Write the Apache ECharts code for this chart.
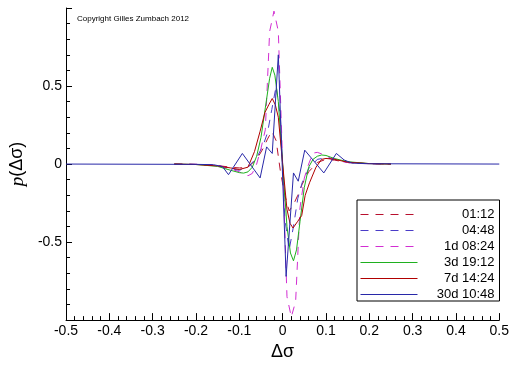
<!DOCTYPE html>
<html>
<head>
<meta charset="utf-8">
<script src="https://cdn.jsdelivr.net/npm/echarts@6/dist/echarts.min.js"></script>
<style>
  html, body { margin: 0; padding: 0; background: #fff; }
  #chart { width: 512px; height: 366px; }
</style>
</head>
<body>
<div id="chart"></div>
<script>
// legend names
const names = ['01:12', '04:48', '1d 08:24', '3d 19:12', '7d 14:24', '30d 10:48'];

// 01:12
const x0112 = [-0.25, -0.2, -0.15, -0.12, -0.1, -0.08, -0.06, -0.045, -0.035, -0.025, -0.015, -0.005, 0.005, 0.015, 0.025, 0.035, 0.045, 0.06, 0.08, 0.1, 0.12, 0.15, 0.2, 0.25];
const p0112 = [0, -0.002, -0.01, -0.02, -0.025, -0.02, 0.03, 0.1, 0.16, 0.21, 0.15, -0.05, -0.2, -0.3, -0.26, -0.2, -0.13, -0.05, 0.01, 0.03, 0.025, 0.01, 0.002, 0];

// 04:48
const x0448 = [-0.25, -0.2, -0.15, -0.12, -0.1, -0.08, -0.06, -0.045, -0.035, -0.025, -0.015, -0.005, 0.005, 0.015, 0.025, 0.035, 0.045, 0.06, 0.08, 0.1, 0.12, 0.15, 0.2, 0.25];
const p0448 = [0, -0.002, -0.01, -0.03, -0.04, -0.02, 0.04, 0.12, 0.2, 0.35, 0.5, 0.3, -0.35, -0.55, -0.4, -0.22, -0.12, -0.03, 0.03, 0.04, 0.03, 0.01, 0.002, 0];

// 1d 08:24
const x1d = [-0.25, -0.2, -0.16, -0.14, -0.12, -0.1, -0.09, -0.08, -0.07, -0.06, -0.05, -0.04, -0.03, -0.02, -0.01, 0, 0.01, 0.02, 0.03, 0.04, 0.05, 0.06, 0.07, 0.08, 0.09, 0.1, 0.12, 0.14, 0.16, 0.2, 0.25];
const p1d = [0, -0.002, -0.005, -0.015, -0.03, -0.05, -0.065, -0.075, -0.06, 0.0, 0.1, 0.22, 0.85, 0.98, 0.85, 0, -0.85, -0.98, -0.88, -0.28, -0.09, 0.0, 0.07, 0.075, 0.065, 0.05, 0.03, 0.015, 0.005, 0.002, 0];

// 3d 19:12
const x3d = [-0.25, -0.2, -0.15, -0.12, -0.1, -0.09, -0.08, -0.07, -0.06, -0.05, -0.04, -0.03, -0.024, -0.018, -0.01, 0, 0.01, 0.018, 0.025, 0.032, 0.04, 0.05, 0.06, 0.07, 0.08, 0.09, 0.1, 0.11, 0.12, 0.15, 0.2, 0.25];
const p3d = [0, -0.003, -0.015, -0.04, -0.055, -0.058, -0.05, -0.02, 0.05, 0.17, 0.36, 0.55, 0.62, 0.57, 0.4, 0, -0.4, -0.57, -0.62, -0.55, -0.37, -0.15, -0.02, 0.03, 0.05, 0.058, 0.055, 0.045, 0.035, 0.015, 0.003, 0];

// 7d 14:24
const x7d = [-0.25, -0.2, -0.15, -0.12, -0.1, -0.08, -0.065, -0.052, -0.041, -0.032, -0.024, -0.017, -0.01, 0, 0.01, 0.017, 0.024, 0.034, 0.044, 0.052, 0.062, 0.077, 0.09, 0.1, 0.12, 0.15, 0.2, 0.25];
const p7d = [0, -0.003, -0.012, -0.025, -0.035, -0.02, 0.08, 0.21, 0.33, 0.38, 0.42, 0.38, 0.3, 0, -0.29, -0.38, -0.41, -0.37, -0.33, -0.2, -0.12, -0.02, 0.03, 0.036, 0.03, 0.012, 0.003, 0];

// 30d 10:48
const x30d = [-0.5, -0.2, -0.16, -0.139, -0.125, -0.093, -0.052, -0.037, -0.024, -0.01, 0.008, 0.025, 0.036, 0.051, 0.095, 0.124, 0.142, 0.16, 0.2, 0.5];
const p30d = [0, -0.002, -0.004, -0.016, -0.068, 0.068, -0.089, 0.11, 0.068, 0.7, -0.72, -0.057, -0.11, 0.089, -0.057, 0.068, 0.026, 0.006, 0.002, 0];

function zip(xs, ys) {
  return xs.map((x, i) => [x, ys[i]]);
}

let chart = echarts.init(document.getElementById('chart'));

let dash = [8, 7];
let seriesDefs = [
  { xs: x0112, ys: p0112, color: '#b8102e', type: dash },
  { xs: x0448, ys: p0448, color: '#4a3cc8', type: dash },
  { xs: x1d, ys: p1d, color: '#d22ed2', type: dash },
  { xs: x3d, ys: p3d, color: '#1fb01f', type: 'solid' },
  { xs: x7d, ys: p7d, color: '#b00000', type: 'solid' },
  { xs: x30d, ys: p30d, color: '#2828a8', type: 'solid' },
];

let series = seriesDefs.map((s, i) => ({
  name: names[i],
  type: 'line',
  data: zip(s.xs, s.ys),
  showSymbol: false,
  symbol: 'none',
  animation: false,
  color: s.color,
  lineStyle: { width: 1, color: s.color, type: s.type },
}));

let legendData = seriesDefs.map((s, i) => ({
  name: names[i],
  itemStyle: { opacity: 0 },
  lineStyle: { width: 1, color: s.color, type: s.type },
}));

let option = {
  animation: false,
  backgroundColor: '#fff',
  title: {
    text: 'Copyright Gilles Zumbach 2012',
    left: 77,
    top: 15,
    padding: 0,
    textStyle: { fontSize: 8, fontWeight: 'normal', color: '#000', fontFamily: 'Liberation Sans' },
  },
  grid: { left: 46, right: 11, top: 8, bottom: 39 },
  legend: {
    orient: 'vertical',
    left: 357,
    top: 200,
    padding: [8, 5, 0, 3],
    itemWidth: 57,
    itemHeight: 15,
    itemGap: 3,
    itemTextGap: 5,
    backgroundColor: '#fff',
    borderColor: '#000',
    borderWidth: 1,
    borderRadius: 0,
    selectedMode: false,
    data: legendData,
    formatter: (name) => '{a|' + name + '}',
    textStyle: {
      fontFamily: 'Liberation Sans',
      fontSize: 13,
      color: '#000',
      rich: { a: { width: 72, align: 'right', fontSize: 13, fontFamily: 'Liberation Sans', lineHeight: 15 } },
    },
  },
  xAxis: {
    type: 'value',
    min: -0.5,
    max: 0.5,
    interval: 0.1,
    name: 'Δσ',
    nameLocation: 'middle',
    nameGap: 15,
    nameTextStyle: { fontFamily: 'Liberation Sans', fontSize: 18, color: '#000' },
    axisLine: { show: true, onZero: false, lineStyle: { color: '#000', width: 1 } },
    axisTick: { show: true, inside: true, length: 7, lineStyle: { color: '#000' } },
    minorTick: { show: true, splitNumber: 5, length: 4, lineStyle: { color: '#000' } },
    splitLine: { show: false },
    axisLabel: {
      margin: 4,
      fontFamily: 'Liberation Sans',
      fontSize: 14,
      color: '#000',
      formatter: (v) => String(Math.round(v * 10) / 10),
    },
  },
  yAxis: {
    type: 'value',
    min: -1,
    max: 1,
    interval: 0.5,
    name: '{i|p}(Δσ)',
    nameLocation: 'middle',
    nameGap: 26,
    nameRotate: 90,
    nameTextStyle: {
      fontFamily: 'Liberation Sans',
      fontSize: 18,
      color: '#000',
      rich: { i: { fontFamily: 'Liberation Serif', fontStyle: 'italic', fontSize: 19, color: '#000' } },
    },
    axisLine: { show: true, onZero: false, lineStyle: { color: '#000', width: 1 } },
    axisTick: { show: true, inside: true, length: 6, lineStyle: { color: '#000' } },
    minorTick: { show: true, splitNumber: 5, length: 4, lineStyle: { color: '#000' } },
    splitLine: { show: false },
    axisLabel: {
      margin: 4,
      fontFamily: 'Liberation Sans',
      fontSize: 14,
      color: '#000',
      formatter: (v) => (Math.abs(v) > 0.99 ? '' : String(v)),
    },
  },
  series: series,
};

chart.setOption(option);
</script>
</body>
</html>
